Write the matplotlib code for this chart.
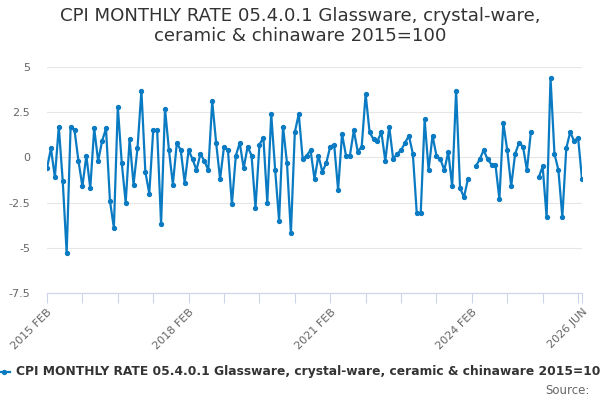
import numpy as np
import pandas as pd
import matplotlib
matplotlib.use('Agg')
import matplotlib.pyplot as plt

# monthly rate, 2015 FEB .. 2026 JUN (None = no value)
rate = [-0.6, 0.5, -1.1, 1.7, -1.3, -5.3, 1.7, 1.5, -0.2, -1.6, 0.1, -1.7,
        1.6, -0.2, 0.9, 1.6, -2.4, -3.9, 2.8, -0.3, -2.5, 1.0, -1.5, 0.5,
        3.7, -0.8, -2.0, 1.5, 1.5, -3.7, 2.7, 0.4, -1.5, 0.8, 0.4, -1.4,
        0.4, -0.1, -0.7, 0.2, -0.2, -0.7, 3.1, 0.8, -1.2, 0.6, 0.4, -2.6,
        0.1, 0.8, -0.6, 0.6, 0.1, -2.8, 0.7, 1.1, -2.5, 2.4, -0.7, -3.5,
        1.7, -0.3, -4.2, 1.4, 2.4, -0.1, 0.1, 0.4, -1.2, 0.1, -0.8, -0.3,
        0.6, 0.7, -1.8, 1.3, 0.1, 0.1, 1.5, 0.3, 0.6, 3.5, 1.4, 1.0,
        0.9, 1.4, -0.2, 1.7, -0.1, 0.2, 0.4, 0.8, 1.2, 0.2, -3.1, -3.1,
        2.1, -0.7, 1.2, 0.1, -0.1, -0.7, 0.3, -1.6, 3.7, -1.7, -2.2, -1.2,
        None, -0.5, -0.1, 0.4, -0.1, -0.4, -0.4, -2.3, 1.9, 0.4, -1.6, 0.2,
        0.8, 0.6, -0.7, 1.4, None, -1.1, -0.5, -3.3, 4.4, 0.2, -0.7, -3.3,
        0.5, 1.4, 0.9, 1.1, -1.2]

months = pd.date_range('2015-02-01', periods=len(rate), freq='MS')
month_labels = [d.strftime('%Y %b').upper() for d in months]

label_months = ['2015 FEB', '2018 FEB', '2021 FEB', '2024 FEB', '2026 JUN']
y_ticks = [5, 2.5, 0, -2.5, -5, -7.5]
y_labels = ['5', '2.5', '0', '-2.5', '-5', '-7.5']

title = 'CPI MONTHLY RATE 05.4.0.1 Glassware, crystal-ware,\nceramic & chinaware 2015=100'
series_name = 'CPI MONTHLY RATE 05.4.0.1 Glassware, crystal-ware, ceramic & chinaware 2015=100'

blue = '#0a7bc2'
axis_col = '#ccd6eb'

x = np.arange(len(rate))
y = np.array([np.nan if v is None else v for v in rate])

fig = plt.figure(figsize=(6, 4), dpi=100)
ax = fig.add_axes([47 / 600, 1 - 293 / 400, (582 - 47) / 600, (293 - 67) / 400])

ax.plot(x, y, color=blue, lw=1.6, marker='o', ms=2.8, zorder=3)

ax.set_xlim(0, len(rate) - 1)
ax.set_ylim(-7.5, 5)
ax.set_yticks(y_ticks)
ax.set_yticklabels(y_labels)
ax.grid(axis='y', color='#e6e6e6', lw=0.8)
ax.set_axisbelow(True)

# ticks every 9 months plus the last month, labels every 36 months
tick_pos = list(range(0, len(rate) - 1, 9)) + [len(rate) - 1]
ax.set_xticks(tick_pos)
ax.set_xticklabels([month_labels[p] if month_labels[p] in label_months else '' for p in tick_pos],
                   rotation=45, ha='right', rotation_mode='anchor')

for s in ['top', 'right', 'left']:
    ax.spines[s].set_visible(False)
ax.spines['bottom'].set_color(axis_col)
ax.tick_params(axis='x', colors='#666666', length=7, color=axis_col, labelsize=8, pad=3)
ax.tick_params(axis='y', colors='#666666', length=0, labelsize=8, pad=12)

fig.text(0.5, 0.982, title, ha='center', va='top', fontsize=13.1, color='#333333',
         linespacing=1.12)

# legend at bottom, clipped like the original
fig.add_artist(plt.Line2D([-2 / 600, 10 / 600], [1 - 372 / 400] * 2, color=blue, lw=1.6))
fig.add_artist(plt.Line2D([4 / 600], [1 - 372 / 400], color=blue, marker='o', ms=2.8))
fig.text(16 / 600, 1 - 372 / 400, series_name, ha='left', va='center', fontsize=8.85,
         fontweight='bold', color='#333333')
fig.text(590 / 600, 1 - 390 / 400, 'Source:', ha='right', va='center', fontsize=8.5,
         color='#666666')

fig.savefig('out.png', dpi=100)
